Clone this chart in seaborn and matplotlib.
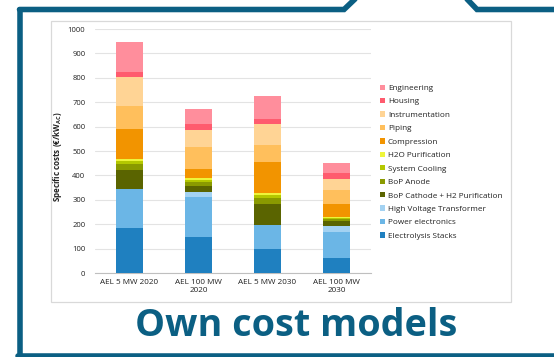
import matplotlib
matplotlib.use("Agg")
import matplotlib.pyplot as plt
import seaborn as sns
import numpy as np
from matplotlib.patches import Patch, Rectangle
from matplotlib.lines import Line2D

# ---------------- data ----------------
categories = ["AEL 5 MW 2020", "AEL 100 MW\n2020", "AEL 5 MW 2030", "AEL 100 MW\n2030"]
components = ["Electrolysis Stacks", "Power electronics", "High Voltage Transformer",
              "BoP Cathode + H2 Purification", "BoP Anode", "System Cooling",
              "H2O Purification", "Compression", "Piping", "Instrumentation",
              "Housing", "Engineering"]
electrolysis_stacks = [184, 149, 98, 61]
power_electronics = [161, 161, 100, 105]
high_voltage_transformer = [0, 24, 0, 25]
bop_cathode = [78, 21, 84, 22]
bop_anode = [24, 17, 25, 8]
system_cooling = [10, 10, 11, 5]
h2o_purification = [10, 7, 9, 5]
compression = [122, 38, 126, 50]
piping = [96, 91, 72, 61]
instrumentation = [117, 69, 85, 45]
housing = [23, 24, 22, 24]
engineering = [123, 60, 92, 38]
yticks = list(range(0, 1001, 100))

series = [electrolysis_stacks, power_electronics, high_voltage_transformer, bop_cathode,
          bop_anode, system_cooling, h2o_purification, compression, piping,
          instrumentation, housing, engineering]
colors = ["#1F80C0", "#6BB6E6", "#A3D2F2", "#5A6400", "#8A9A00", "#B4C800",
          "#EEF53A", "#F29400", "#FFBF5C", "#FFD495", "#FF5B6E", "#FF8E9C"]

W, H = 554, 357
sns.set_theme(style="white")
plt.rcParams['font.family'] = ['Open Sans', 'DejaVu Sans']
plt.rcParams['mathtext.fontset'] = 'custom'
plt.rcParams['mathtext.rm'] = 'Open Sans'
plt.rcParams['mathtext.bf'] = 'Open Sans:bold'

fig = plt.figure(figsize=(W / 100, H / 100), dpi=100)

def fx(px):
    return px / W

def fy(py):
    return 1 - py / H

# inner light box
fig.patches.append(Rectangle((fx(50.5), fy(302)), fx(511) - fx(50.5), fy(21) - fy(302),
                             transform=fig.transFigure, fill=False,
                             edgecolor="#D9D9D9", linewidth=0.9, zorder=0))

# outer dark frame
frame_c = "#0B5F83"
lw = 4.0
fig.add_artist(Line2D([fx(19.5), fx(19.5)], [fy(355.5), fy(9.5)], transform=fig.transFigure,
                      color=frame_c, linewidth=lw, solid_joinstyle="miter"))
fig.add_artist(Line2D([fx(19.5), fx(344), fx(355), fx(358)], [fy(9.5), fy(9.5), fy(-1), fy(-4)],
                      transform=fig.transFigure, color=frame_c, linewidth=lw,
                      solid_joinstyle="miter"))
fig.add_artist(Line2D([fx(466), fx(477), fx(560)], [fy(-2), fy(9.5), fy(9.5)],
                      transform=fig.transFigure, color=frame_c, linewidth=lw,
                      solid_joinstyle="miter"))
fig.add_artist(Line2D([fx(17.5), fx(560)], [fy(355.5), fy(355.5)], transform=fig.transFigure,
                      color=frame_c, linewidth=lw))

# axes
ax = fig.add_axes([fx(95), fy(273), fx(371) - fx(95), fy(29) - fy(273)])
bottom = np.zeros(len(categories))
for vals, col in zip(series, colors):
    sns.barplot(x=categories, y=vals, bottom=bottom, color=col, width=0.39,
                linewidth=0, ax=ax, zorder=3, saturation=1)
    bottom = bottom + np.array(vals)

ax.set_xlim(-0.5, 3.5)
ax.set_ylim(0, 1000)
ax.set_yticks(yticks)
ax.set_yticklabels([str(t) for t in yticks])
ax.yaxis.grid(True, color="#E3E3E3", linewidth=0.8, zorder=0)
ax.set_axisbelow(True)
for s in ["left", "top", "right"]:
    ax.spines[s].set_visible(False)
ax.spines["bottom"].set_color("#BFBFBF")
ax.spines["bottom"].set_linewidth(0.8)
ax.tick_params(axis="both", length=0, colors="#222222")
ax.tick_params(axis="y", pad=7, labelsize=5.5)
ax.tick_params(axis="x", pad=4, labelsize=5.9)
ax.set_ylabel("Specific costs (€/kW$_{\\mathbf{AC}}$)", fontsize=5.8,
              fontweight="bold", color="#222222")
ax.yaxis.set_label_coords(-(95 - 63.5) / 276, 0.475)
ax.set_xlabel("")

handles = [Patch(facecolor=c, edgecolor="none") for c in colors[::-1]]
leg = fig.legend(handles, components[::-1], loc="upper left",
                 bbox_to_anchor=(fx(379.5), fy(84.5)), frameon=False, fontsize=5.9,
                 handlelength=0.62, handleheight=0.62, handletextpad=0.4,
                 labelspacing=0.72, borderaxespad=0, borderpad=0)
for t in leg.get_texts():
    t.set_color("#222222")

fig.text(fx(296.5), fy(336), "Own cost models", ha="center", va="baseline",
         fontsize=27.2, fontweight="bold", color=frame_c)

fig.savefig("out.png", dpi=100)
